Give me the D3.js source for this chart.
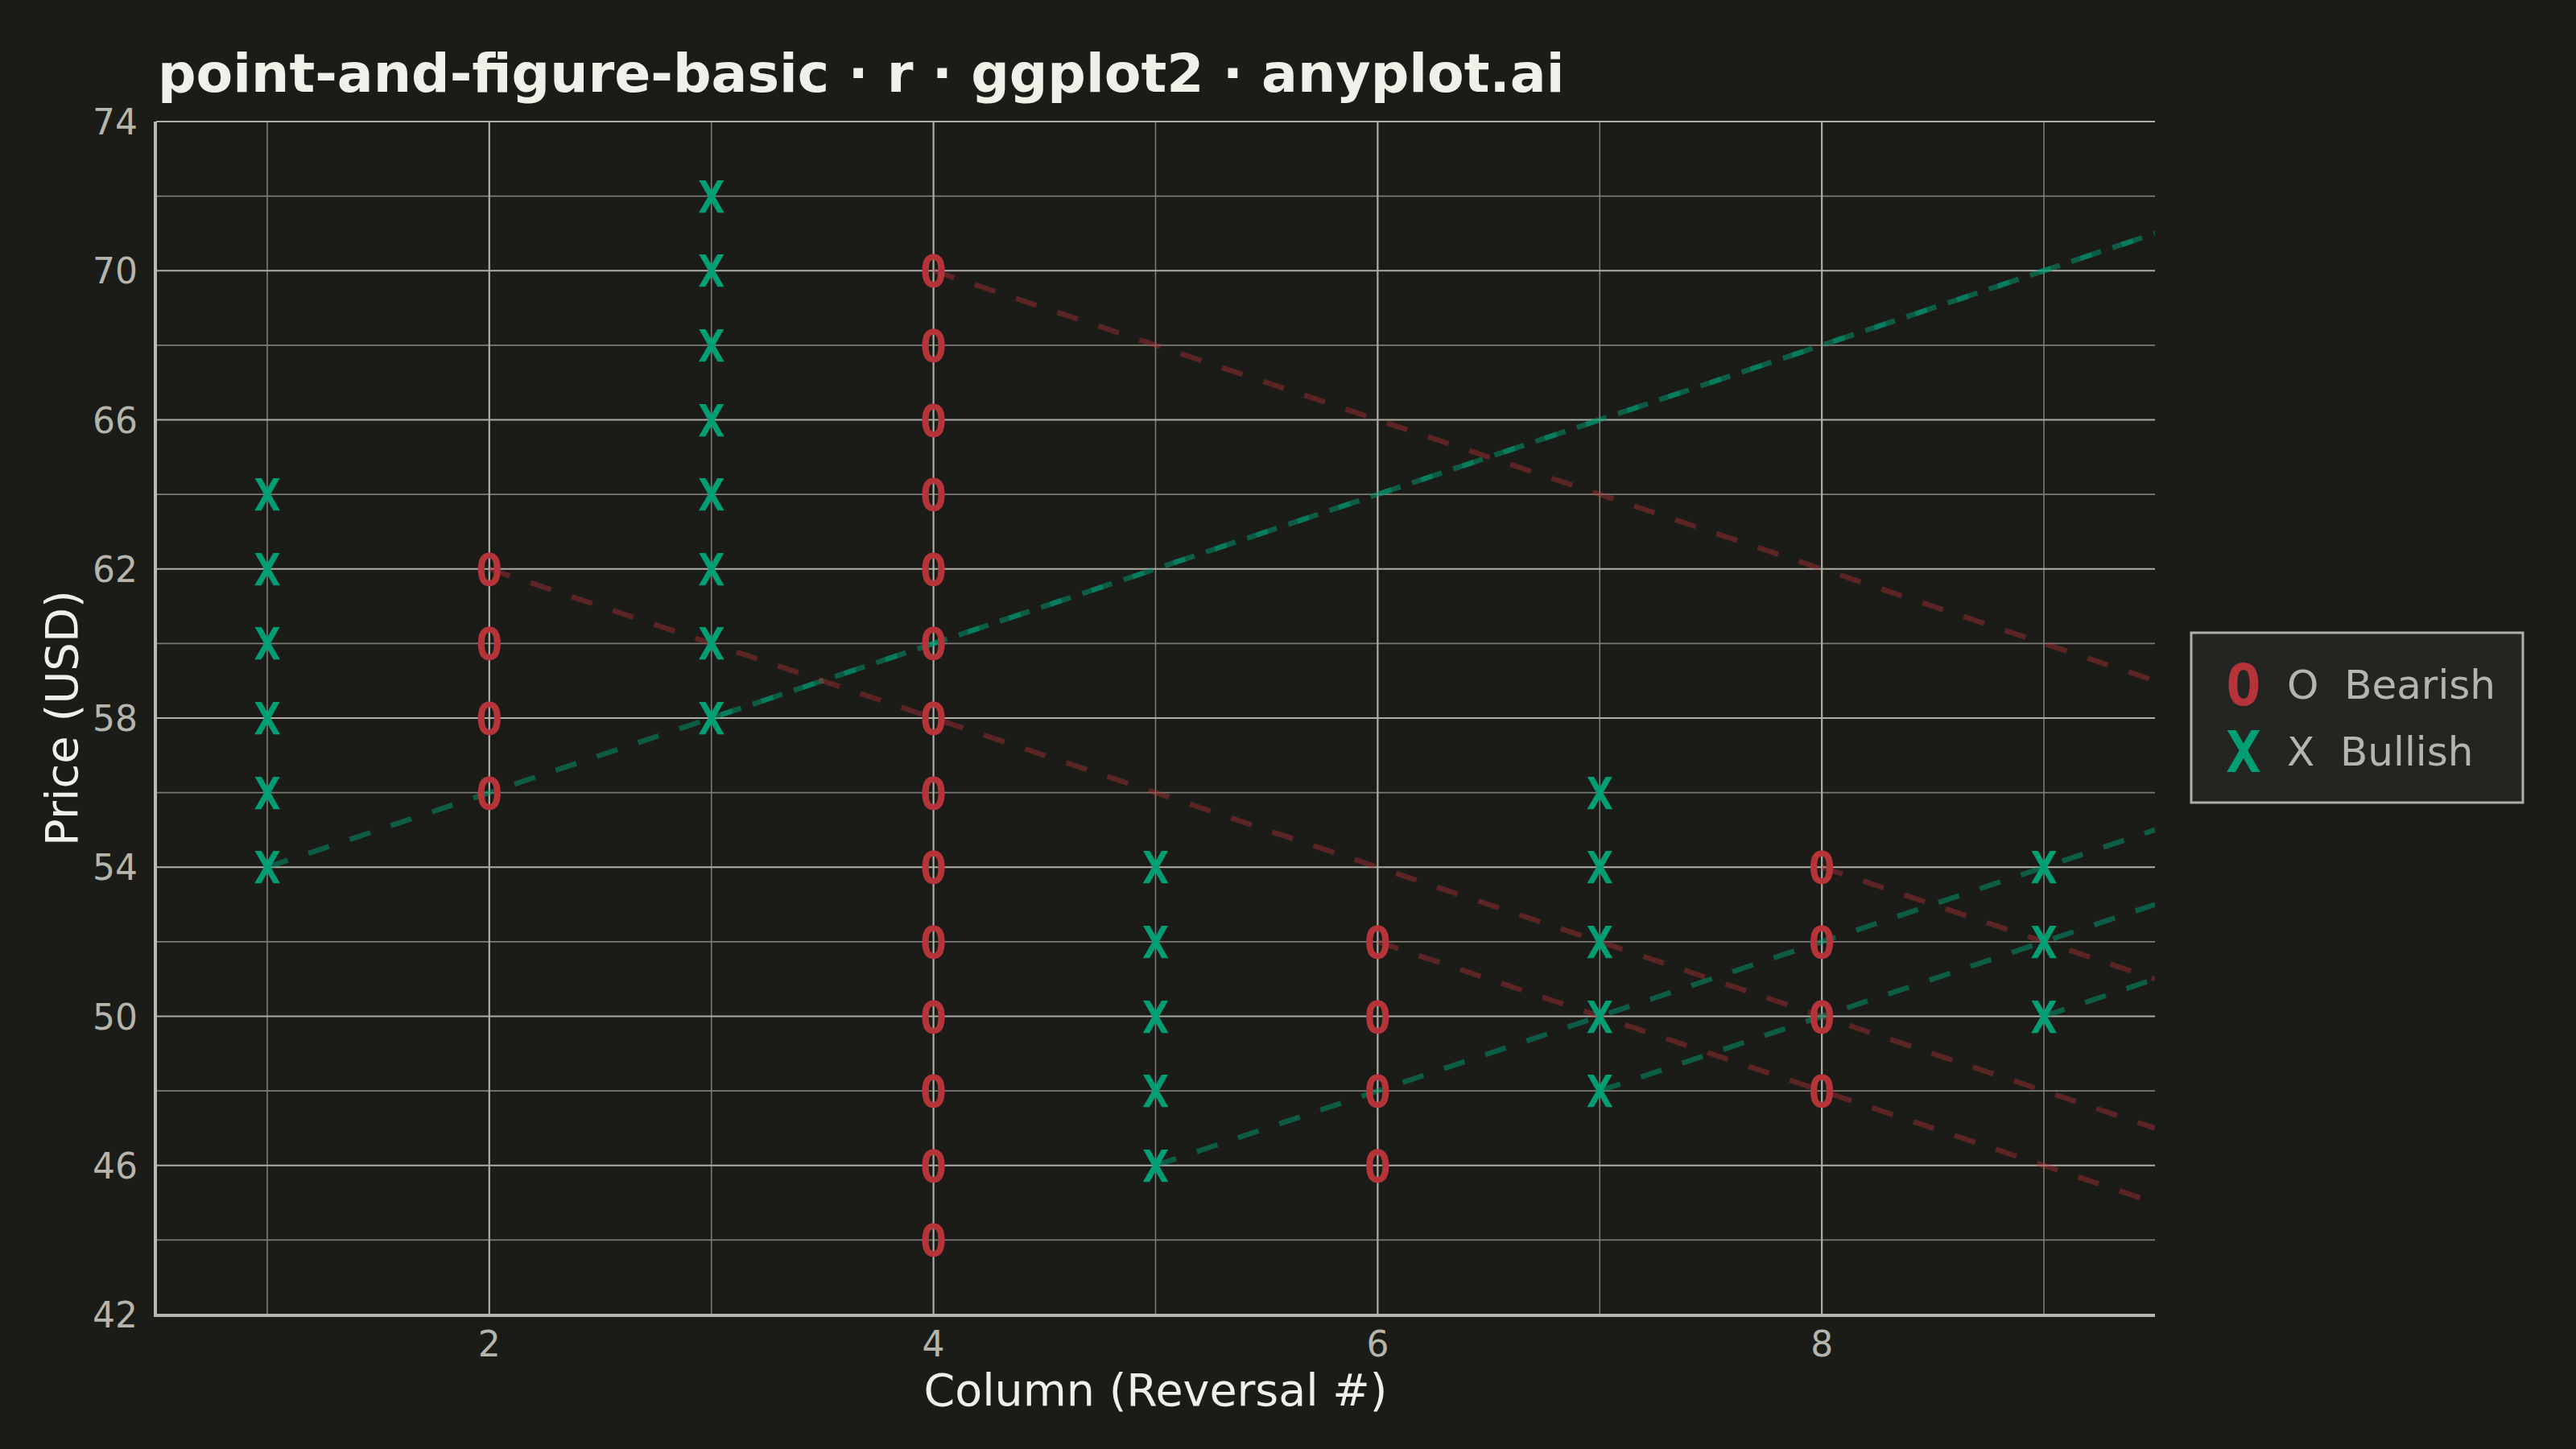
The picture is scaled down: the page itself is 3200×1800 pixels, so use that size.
<!DOCTYPE html>
<html>
<head>
<meta charset="utf-8">
<script src="https://cdn.jsdelivr.net/npm/d3@7"></script>
<style>
  html, body { margin: 0; padding: 0; background: #1b1b17; }
  svg { display: block; }
  text { font-family: "DejaVu Sans", sans-serif; }
</style>
</head>
<body>
<div id="chart"></div>
<script>
// point & figure columns (box size 2, 1-box reversal)
const columnNumber = [1, 2, 3, 4, 5, 6, 7, 8, 9];
const columnType = ["X", "O", "X", "O", "X", "O", "X", "O", "X"];
const columnLow = [54, 56, 58, 44, 46, 46, 48, 48, 50];
const columnHigh = [64, 62, 72, 70, 54, 52, 56, 54, 54];
const boxSize = 2;

const xTicks = [2, 4, 6, 8];
const xMinor = [1, 3, 5, 7, 9];
const yTicks = [42, 46, 50, 54, 58, 62, 66, 70, 74];
const yMinor = [44, 48, 52, 56, 60, 64, 68, 72];

const legendKeys = ["O", "X"];
const legendLabels = ["O  Bearish", "X  Bullish"];

const W = 3200, H = 1800;
const BG = "#1b1b17";
const COLORS = { X: "#009e73", O: "#b5343a" };
const TREND_ALPHA = { X: 0.5, O: 0.42 };

const margin = { left: 194, right: W - 2677, top: 151, bottom: H - 1633 };

const svg = d3.select("#chart")
  .append("svg")
  .attr("width", W)
  .attr("height", H)
  .attr("viewBox", "0 0 " + W + " " + H);

svg.append("rect").attr("width", W).attr("height", H).attr("fill", BG);

const x = d3.scaleLinear().domain([0.5, 9.5]).range([margin.left, W - margin.right]);
const y = d3.scaleLinear().domain([42, 74]).range([H - margin.bottom, margin.top]);

// build boxes from the column ranges
const columns = columnNumber.map((c, i) => ({
  col: c, type: columnType[i], low: columnLow[i], high: columnHigh[i]
}));
const boxes = [];
columns.forEach(c => {
  d3.range(c.low, c.high + boxSize / 2, boxSize).forEach(p => {
    boxes.push({ col: c.col, type: c.type, price: p });
  });
});

svg.append("clipPath").attr("id", "panel")
  .append("rect")
  .attr("x", x.range()[0]).attr("y", y.range()[1])
  .attr("width", x.range()[1] - x.range()[0])
  .attr("height", y.range()[0] - y.range()[1]);

// grid
const grid = svg.append("g");
grid.selectAll(".vmin").data(xMinor).join("line")
  .attr("x1", d => x(d)).attr("x2", d => x(d))
  .attr("y1", y.range()[0]).attr("y2", y.range()[1])
  .attr("stroke", "#7c7c74").attr("stroke-width", 1.6);
grid.selectAll(".hmin").data(yMinor).join("line")
  .attr("x1", x.range()[0]).attr("x2", x.range()[1])
  .attr("y1", d => y(d)).attr("y2", d => y(d))
  .attr("stroke", "#7c7c74").attr("stroke-width", 1.6);
grid.selectAll(".vmaj").data(xTicks).join("line")
  .attr("x1", d => x(d)).attr("x2", d => x(d))
  .attr("y1", y.range()[0]).attr("y2", y.range()[1])
  .attr("stroke", "#aeaea6").attr("stroke-width", 2.2);
grid.selectAll(".hmaj").data(yTicks).join("line")
  .attr("x1", x.range()[0]).attr("x2", x.range()[1])
  .attr("y1", d => y(d)).attr("y2", d => y(d))
  .attr("stroke", "#aeaea6").attr("stroke-width", 2.2);

// trend lines: 45 degree lines from the bottom of each X column and the top of each O column
const xEnd = x.domain()[1];
const trends = columns.map(c => {
  const start = c.type === "X" ? c.low : c.high;
  const sign = c.type === "X" ? 1 : -1;
  return { type: c.type, pts: [[c.col, start], [xEnd, start + sign * (xEnd - c.col) * boxSize]] };
});
const line = d3.line().x(d => x(d[0])).y(d => y(d[1]));
svg.append("g").attr("clip-path", "url(#panel)")
  .selectAll("path").data(trends).join("path")
  .attr("d", d => line(d.pts))
  .attr("fill", "none")
  .attr("stroke", d => COLORS[d.type])
  .attr("stroke-opacity", d => TREND_ALPHA[d.type])
  .attr("stroke-width", 6.5)
  .attr("stroke-dasharray", "27 27");

// markers
const MARK = 55;
svg.append("g").selectAll("text").data(boxes).join("text")
  .attr("x", d => x(d.col))
  .attr("y", d => y(d.price) + MARK * 0.364)
  .attr("text-anchor", "middle")
  .style("font-family", "'DejaVu Sans Mono', monospace")
  .attr("font-weight", "bold")
  .attr("font-size", MARK)
  .attr("fill", d => COLORS[d.type])
  .text(d => d.type);

// axes
const axisColor = "#b8b8b0";
svg.append("line")
  .attr("x1", x.range()[0] - 1).attr("x2", x.range()[0] - 1)
  .attr("y1", y.range()[1]).attr("y2", y.range()[0] + 2)
  .attr("stroke", axisColor).attr("stroke-width", 4);
svg.append("line")
  .attr("x1", x.range()[0] - 3).attr("x2", x.range()[1])
  .attr("y1", y.range()[0] + 1).attr("y2", y.range()[0] + 1)
  .attr("stroke", axisColor).attr("stroke-width", 4);

const tickColor = "#b5b5ad";
svg.append("g").selectAll("text").data(yTicks).join("text")
  .attr("x", x.range()[0] - 23)
  .attr("y", d => y(d) + 44 * 0.364)
  .attr("text-anchor", "end")
  .attr("font-size", 44)
  .attr("fill", tickColor)
  .text(d => d);
svg.append("g").selectAll("text").data(xTicks).join("text")
  .attr("x", d => x(d))
  .attr("y", 1685)
  .attr("text-anchor", "middle")
  .attr("font-size", 44)
  .attr("fill", tickColor)
  .text(d => d);

// titles
const titleColor = "#f0efe8";
svg.append("text")
  .attr("x", (x.range()[0] + x.range()[1]) / 2)
  .attr("y", 1746)
  .attr("text-anchor", "middle")
  .attr("font-size", 55.5)
  .attr("fill", titleColor)
  .text("Column (Reversal #)");
svg.append("text")
  .attr("transform", "translate(96," + ((y.range()[0] + y.range()[1]) / 2) + ") rotate(-90)")
  .attr("text-anchor", "middle")
  .attr("font-size", 56)
  .attr("fill", titleColor)
  .text("Price (USD)");
svg.append("text")
  .attr("x", 196)
  .attr("y", 114)
  .attr("font-size", 66.5)
  .attr("font-weight", "bold")
  .attr("fill", titleColor)
  .text("point-and-figure-basic · r · ggplot2 · anyplot.ai");

// legend
const legend = svg.append("g").attr("transform", "translate(2722,786)");
legend.append("rect")
  .attr("width", 412).attr("height", 211)
  .attr("fill", "#242420")
  .attr("stroke", "#b0b0a8").attr("stroke-width", 3);
const LKEY = 72;
legendKeys.forEach((k, i) => {
  const cy = 64 + i * 83;
  legend.append("text")
    .attr("x", 65).attr("y", cy + LKEY * 0.364)
    .attr("text-anchor", "middle")
    .style("font-family", "'DejaVu Sans Mono', monospace")
    .attr("font-weight", "bold")
    .attr("font-size", LKEY)
    .attr("fill", COLORS[k])
    .text(k);
  legend.append("text")
    .attr("x", 119).attr("y", cy + 50 * 0.364)
    .attr("font-size", 50)
    .attr("fill", tickColor)
    .style("white-space", "pre")
    .text(legendLabels[i]);
});
</script>
</body>
</html>
